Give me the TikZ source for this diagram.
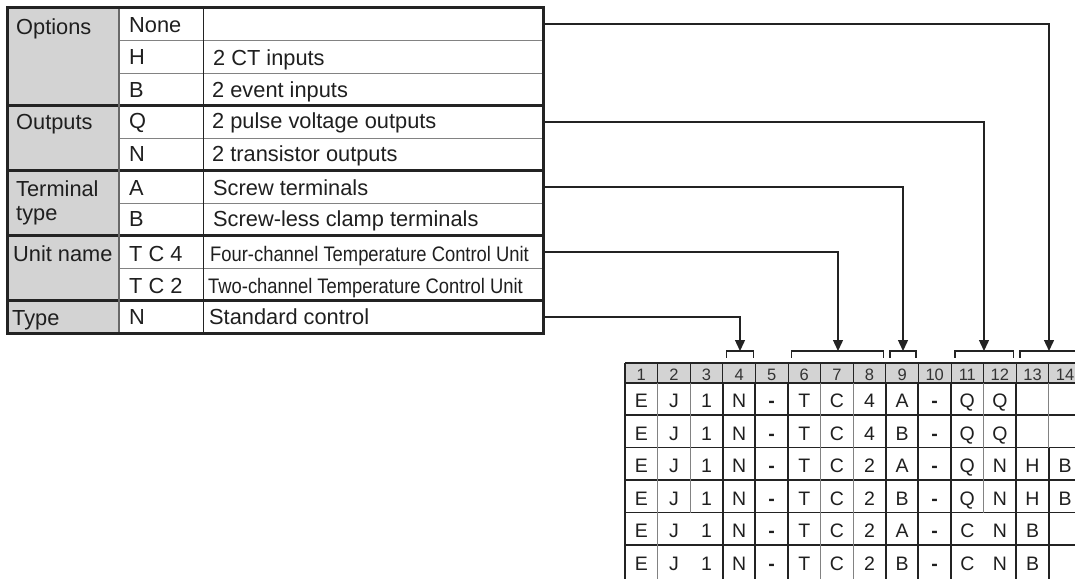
\documentclass[tikz,border=0pt]{standalone}
\usepackage{fontspec}
\setmainfont{Liberation Sans}
\usetikzlibrary{arrows.meta}
\definecolor{grayfill}{RGB}{211,211,211}
\definecolor{linec}{RGB}{35,35,35}
\definecolor{thing}{RGB}{130,130,130}
\definecolor{colg}{RGB}{105,105,105}
\begin{document}
\begin{tikzpicture}[x=1pt,y=-1pt,
  txt/.style={anchor=base west,inner sep=0pt,font=\fontsize{21.8}{24}\selectfont,text=black!88},
  cell/.style={anchor=base,inner sep=0pt,font=\fontsize{19.5}{22}\selectfont,text=black!88},
  hdr/.style={anchor=base,inner sep=0pt,font=\fontsize{16.5}{18}\selectfont,text=black!80},
  conn/.style={draw=linec,line width=1.4pt,-{Triangle[width=10pt,length=11pt]}},
  brk/.style={draw=linec,line width=1.4pt},
  outerl/.style={draw=linec,line width=3pt},
  grpl/.style={draw=linec,line width=2.2pt},
  innl/.style={draw=thing,line width=1pt},
  darkl/.style={draw=linec,line width=1pt},
  sepl/.style={draw=colg,line width=2.6pt},
  vthick/.style={draw=linec,line width=2pt},
  vthin/.style={draw=thing,line width=1pt},
  hrow/.style={draw=linec,line width=1.2pt}
]
\useasboundingbox (0,0) rectangle (1075,578);
\clip (0,0) rectangle (1075,578);

% ---------- top table ----------
\fill[grayfill] (7,8) rectangle (119,333);
\foreach \y in {40.5,73,138,203,268}
  \draw[innl] (119,\y) -- (543,\y);
\foreach \y in {105.5,170.5,235.5,300.5}
  \draw[grpl] (7,\y) -- (543,\y);
\draw[darkl] (203,8) -- (203,333);
\draw[sepl] (119,8) -- (119,333);
\draw[outerl] (7,8) rectangle (543,333);

% column 1 labels
\node[txt] (lopt) at (16,34.5) {Options};
\node[txt] (lout) at (16,129) {Outputs};
\node[txt] (lter) at (16,196) {Terminal};
\node[txt] (ltyp) at (16,220) {type};
\node[txt] (luni) at (13,261) {Unit name};
\node[txt] (ltype) at (12,325.5) {Type};

% column 2 codes
\node[txt] (cnone) at (129,33) {None};
\node[txt] (ch) at (129,64.5) {H};
\node[txt] (cb) at (129,97) {B};
\node[txt] (cq) at (129,128.5) {Q};
\node[txt] (cn) at (129,161) {N};
\node[txt] (ca) at (129,195.5) {A};
\node[txt] (cb2) at (129,226) {B};
\node[txt] (ctc4) at (129,261) {T C 4};
\node[txt] (ctc2) at (129,293.5) {T C 2};
\node[txt] (cn2) at (129,324.5) {N};

% column 3 descriptions
\node[txt] (d1) at (213,65.5) {2 CT inputs};
\node[txt] (d2) at (212,97) {2 event inputs};
\node[txt] (d3) at (212,128.5) {2 pulse voltage outputs};
\node[txt] (d4) at (212,161) {2 transistor outputs};
\node[txt] (d5) at (213,195.5) {Screw terminals};
\node[txt] (d6) at (213,226) {Screw-less clamp terminals};
\node[txt,font=\fontsize{21}{24}\selectfont] (d7) at (210,261) {\scalebox{0.875}[1]{Four-channel Temperature Control Unit}};
\node[txt,font=\fontsize{21}{24}\selectfont] (d8) at (208,293.5) {\scalebox{0.875}[1]{Two-channel Temperature Control Unit}};
\node[txt] (d9) at (209,324.5) {Standard control};

% ---------- bottom table ----------
\fill[grayfill] (625,363) rectangle (1085,382.5);
% horizontal row lines
\foreach \y in {415,447.5,480,512.5,545}
  \draw[hrow] (625,\y) -- (1085,\y);
\draw[vthick] (625,382.5) -- (1085,382.5);
% header column lines
\foreach \k in {1,...,13}
  \draw[darkl] ({625+32.6*\k},363) -- ({625+32.6*\k},382.5);
% data column lines
\foreach \k in {3,4,5,8,9,10,12}
  \draw[vthick] ({625+32.6*\k},382.5) -- ({625+32.6*\k},580);
\foreach \k in {1,6,7}
  \draw[vthin] ({625+32.6*\k},382.5) -- ({625+32.6*\k},580);
\draw[vthin] (690.2,382.5) -- (690.2,512.5);
\draw[vthin] (983.6,382.5) -- (983.6,512.5);
\draw[vthin] (1048.8,382.5) -- (1048.8,447.5);
\draw[vthick] (1048.8,447.5) -- (1048.8,580);
\draw[draw=linec,line width=2.8pt] (625,363) -- (1085,363);
\draw[draw=linec,line width=2.8pt] (625,363) -- (625,580);

% header numbers
\foreach \k in {1,...,14}
  \node[hdr] (h\k) at ({625+32.6*(\k-0.5)},380) {\k};

% data cells
\foreach \r/\e/\f/\g/\h/\i/\j in {1/4/A/Q/Q/{}/{},2/4/B/Q/Q/{}/{},3/2/A/Q/N/H/B,4/2/B/Q/N/H/B,5/2/A/C/N/B/{},6/2/B/C/N/B/{}}{
  \pgfmathsetmacro{\yb}{382.5+32.5*(\r-1)+25}
  \node[cell] (e\r-1) at ({625+32.6*0.5},\yb) {E};
  \node[cell] (e\r-2) at ({625+32.6*1.5},\yb) {J};
  \node[cell] (e\r-3) at ({625+32.6*2.5},\yb) {1};
  \node[cell] (e\r-4) at ({625+32.6*3.5},\yb) {N};
  \node[cell] (e\r-5) at ({625+32.6*4.5},\yb) {\textbf{-}};
  \node[cell] (e\r-6) at ({625+32.6*5.5},\yb) {T};
  \node[cell] (e\r-7) at ({625+32.6*6.5},\yb) {C};
  \node[cell] (e\r-8) at ({625+32.6*7.5},\yb) {\e};
  \node[cell] (e\r-9) at ({625+32.6*8.5},\yb) {\f};
  \node[cell] (e\r-10) at ({625+32.6*9.5},\yb) {\textbf{-}};
  \node[cell] (e\r-11) at ({625+32.6*10.5},\yb) {\g};
  \node[cell] (e\r-12) at ({625+32.6*11.5},\yb) {\h};
  \node[cell] (e\r-13) at ({625+32.6*12.5},\yb) {\i};
  \node[cell] (e\r-14) at ({625+32.6*13.5},\yb) {\j};
}

% ---------- brackets ----------
\draw[brk] (726.5,357.5) -- (726.5,351) -- (753.5,351) -- (753.5,357.5);
\draw[brk] (791.5,357.5) -- (791.5,351) -- (883.5,351) -- (883.5,357.5);
\draw[brk] (890,357.5) -- (890,351) -- (916,351) -- (916,357.5);
\draw[brk] (955,357.5) -- (955,351) -- (1013.5,351) -- (1013.5,357.5);
\draw[brk] (1020,357.5) -- (1020,351) -- (1080,351) -- (1080,357.5);

% ---------- connector anchors ----------
\coordinate (sOpt) at (543,24);
\coordinate (sOut) at (543,122);
\coordinate (sTer) at (543,187);
\coordinate (sUni) at (543,252);
\coordinate (sTyp) at (543,317);
\coordinate (tOpt) at (1049,351);
\coordinate (tOut) at (984,351);
\coordinate (tTer) at (903,351);
\coordinate (tUni) at (838,351);
\coordinate (tTyp) at (740,351);

\draw[conn] (sOpt) -| (tOpt);
\draw[conn] (sOut) -| (tOut);
\draw[conn] (sTer) -| (tTer);
\draw[conn] (sUni) -| (tUni);
\draw[conn] (sTyp) -| (tTyp);
\end{tikzpicture}
\end{document}
